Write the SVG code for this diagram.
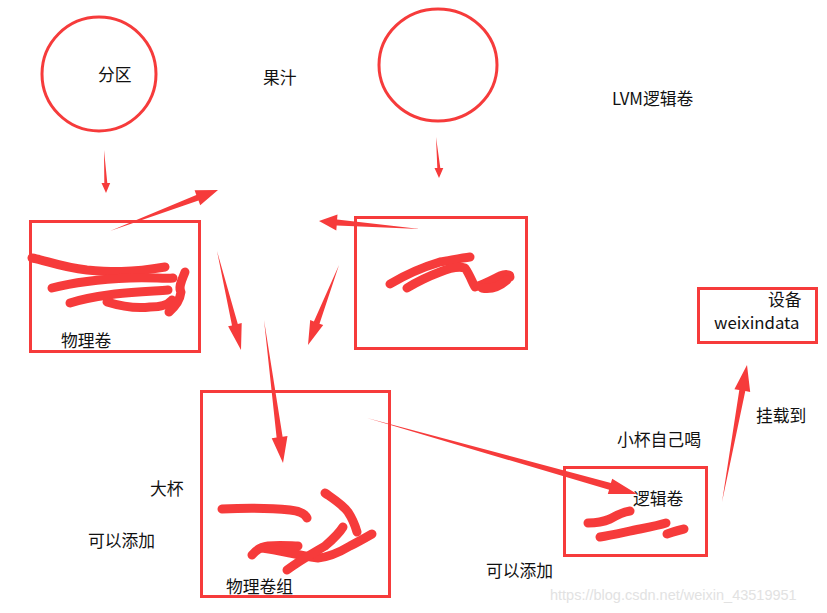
<svg xmlns="http://www.w3.org/2000/svg" width="827" height="613" viewBox="0 0 827 613">
<style>
.bg{fill:#ffffff}
.shape{fill:none;stroke:#f63b3b;stroke-width:3}
.scrib{fill:none;stroke:#f63b3b;stroke-width:9;stroke-linecap:round;stroke-linejoin:round}
.arrow{fill:#f63b3b;stroke:none}
.t{font-family:"Noto Sans CJK SC","Liberation Sans",sans-serif;font-size:16.8px;fill:#111}
.wm{font-family:"Liberation Sans",Arial,sans-serif;font-size:14.5px;fill:#e2e2e2}
</style>
<rect class="bg" x="0" y="0" width="827" height="613"/>

<g id="partition">
<circle class="shape" cx="99" cy="74" r="57"/>
<text class="t" x="98" y="81">分区</text>
</g>
<g id="juice-circle">
<ellipse class="shape" cx="438" cy="65" rx="59" ry="56"/>
</g>
<g id="label-juice"><text class="t" x="263" y="84">果汁</text></g>
<g id="label-lvm"><text class="t" x="612" y="105">LVM逻辑卷</text></g>

<g id="pv1">
<rect class="shape" x="30.5" y="221.5" width="169" height="130"/>
<path class="scrib" d="M32,258 C45,260 60,267 87,270 C110,272 130,273 165,267"/>
<path class="scrib" d="M52,288 C75,282 105,279 130,278 C150,277 165,279 173,278"/>
<path class="scrib" d="M70,303 C85,298 100,296 115,294 C135,292 155,291 168,290"/>
<path class="scrib" d="M107,302 C120,306 135,309 150,307 C160,307 168,305 172,300"/>
<path class="scrib" d="M185,272 C182,280 178,287 181,292 C180,300 176,306 169,312"/>
<text class="t" x="61" y="347">物理卷</text>
</g>

<g id="pv2">
<rect class="shape" x="355.5" y="217.5" width="171" height="131"/>
<path class="scrib" d="M390,284 C405,275 420,268 440,262 C452,260 462,258 470,257"/>
<path class="scrib" d="M407,288 C420,280 432,275 440,272 C450,268 458,266 465,268 C470,275 472,282 475,287 C483,285 492,280 500,276 C505,274 510,274 510,277"/>
<path class="scrib" d="M482,288 C492,290 500,286 507,280"/>
</g>

<g id="vg">
<rect class="shape" x="201.5" y="391.5" width="188" height="205"/>
<path class="scrib" d="M222,509 C245,508 270,508 290,510 C300,511 305,514 307,518"/>
<path class="scrib" d="M325,493 C335,500 343,505 348,512 C352,518 355,525 357,532"/>
<path class="scrib" d="M252,555 C256,550 260,547 268,546 C280,545 292,546 298,546"/>
<path class="scrib" d="M262,548 C280,550 300,556 318,558 C330,557 340,552 350,546 C358,542 365,538 372,534"/>
<path class="scrib" d="M343,527 C338,535 332,540 325,546 C315,552 300,560 287,570"/>
<text class="t" x="226" y="593">物理卷组</text>
</g>

<g id="lv">
<rect class="shape" x="564.5" y="467.5" width="142" height="88"/>
<path class="scrib" d="M588,523 C595,523 603,522 610,519 C617,515 623,512 630,511"/>
<path class="scrib" d="M600,537 C612,535 625,532 640,529 C650,527 660,525 666,523"/>
<path class="scrib" d="M667,534 C673,532 679,530 684,529"/>
<text class="t" x="633" y="505">逻辑卷</text>
</g>

<g id="device">
<rect class="shape" x="698.5" y="288.5" width="118" height="54"/>
<text class="t" x="768" y="306">设备</text>
<text class="t" x="714" y="329">weixindata</text>
</g>

<g id="labels">
<text class="t" x="150" y="495">大杯</text>
<text class="t" x="88" y="547">可以添加</text>
<text class="t" x="617" y="446">小杯自己喝</text>
<text class="t" x="486" y="577">可以添加</text>
<text class="t" x="756" y="422">挂载到</text>
</g>

<g id="connectors">
<polygon class="arrow" points="104,150 104.3,183 101.5,183 106,193 110.2,183 107.3,183"/>
<polygon class="arrow" points="436,137 437.3,168 434.5,168 439,178 443.3,168 440.3,168"/>
<polygon class="arrow" points="110,231 198.5,200.6 200.2,205.3 218,190 194.6,190.3 196.3,195"/>
<polygon class="arrow" points="420,229 337.1,219.4 337.5,214.4 319,221 336.3,230.4 336.7,225.4"/>
<polygon class="arrow" points="217,251 232,325.4 228.1,326.3 241,350 241.7,323.1 237.8,324"/>
<polygon class="arrow" points="339,265 319.5,323.7 323.2,325.1 308,345 310.2,320.1 313.9,321.5"/>
<polygon class="arrow" points="264,320 276.6,437.6 271.7,438.3 283,463 287.5,436.1 282.6,436.8"/>
<polygon class="arrow" points="367,418 609.1,489.8 607.8,494.1 637,494 612.2,478.7 610.9,483"/>
<polygon class="arrow" points="722,502 745.3,391.1 750.2,392 747,365 734.4,389.2 739.3,390.1"/>
</g>

<text class="wm" x="550" y="600">https://blog.csdn.net/weixin_43519951</text>
</svg>
